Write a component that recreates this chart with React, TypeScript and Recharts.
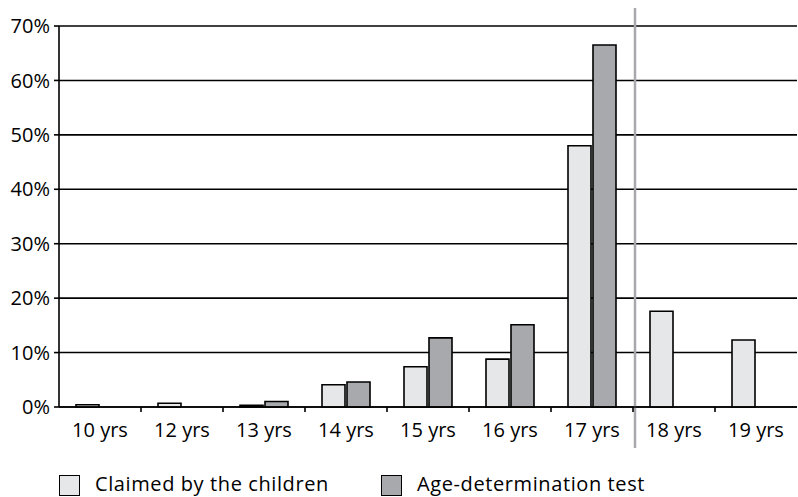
import React from 'react';
import { BarChart, Bar, XAxis, YAxis, CartesianGrid, ReferenceLine } from 'recharts';

const ages = ['10 yrs', '12 yrs', '13 yrs', '14 yrs', '15 yrs', '16 yrs', '17 yrs', '18 yrs', '19 yrs'];
const claimed = [0.4, 0.7, 0.3, 4.1, 7.4, 8.8, 48.0, 17.6, 12.3];
const tested: (number | null)[] = [null, null, 1.0, 4.6, 12.7, 15.1, 66.5, null, null];
const yTicks = [0, 10, 20, 30, 40, 50, 60, 70];

const LIGHT = '#e6e7e8';
const DARK = '#a7a9ac';
const FONT = '"Open Sans", "Noto Sans", sans-serif';

const data = ages.map((name, i) => ({ name, claimed: claimed[i], tested: tested[i] }));

// label in the middle of the band, small tick on the band's left edge
const XTick = (props: any) => {
  const { x, y, payload, index } = props;
  const half = payload?.offset ?? 41;
  return (
    <g>
      <text x={x} y={y + 22} textAnchor="middle" dominantBaseline="central" fontSize={20} fontFamily={FONT} fill="#000">
        {payload.value}
      </text>
      {index > 0 && <line x1={x - half} x2={x - half} y1={y} y2={y + 5} stroke="#000" strokeWidth={1.6} />}
    </g>
  );
};

const Separator = (props: any) => {
  const top = Math.min(props.y1, props.y2);
  const bottom = Math.max(props.y1, props.y2);
  return <line x1={props.x1 + 2} x2={props.x2 + 2} y1={top - 18} y2={bottom + 41} stroke={DARK} strokeWidth={2.5} />;
};

const swatch = (fill: string) => ({
  position: 'absolute' as const,
  left: 0,
  top: 1,
  width: 19,
  height: 19,
  background: fill,
  border: '1.5px solid #000',
});

const legendText = {
  position: 'absolute' as const,
  left: 36,
  top: 0,
  lineHeight: '20px',
  letterSpacing: 0.6,
};

export default function App() {
  return (
    <div style={{ position: 'absolute', left: 0, top: 0, width: 798, height: 497, fontFamily: FONT }}>
      <BarChart
        width={798}
        height={497}
        data={data}
        margin={{ top: 26, right: 1, left: 0, bottom: 0 }}
        barSize={23}
        barGap={2}
      >
        <CartesianGrid vertical={false} stroke="#000" strokeWidth={1.6} />
        <XAxis
          dataKey="name"
          height={90}
          tickSize={0}
          tickMargin={0}
          tickLine={false}
          axisLine={{ stroke: '#000', strokeWidth: 1.6 }}
          tick={<XTick />}
          interval={0}
        />
        <YAxis
          width={59}
          domain={[0, 70]}
          ticks={yTicks}
          tickFormatter={(v: number) => `${v}%`}
          tickSize={5}
          tickMargin={4}
          tickLine={{ stroke: '#000', strokeWidth: 1.6 }}
          axisLine={{ stroke: '#000', strokeWidth: 1.6 }}
          tick={{ fontSize: 20, fontFamily: FONT, fill: '#000' }}
        />
        <Bar dataKey="claimed" fill={LIGHT} stroke="#000" strokeWidth={1.6} isAnimationActive={false} />
        <Bar dataKey="tested" fill={DARK} stroke="#000" strokeWidth={1.6} isAnimationActive={false} />
        <ReferenceLine x="18 yrs" position="start" ifOverflow="visible" shape={<Separator />} />
      </BarChart>
      <div style={{ position: 'absolute', top: 474, left: 59, fontSize: 20, color: '#000', whiteSpace: 'nowrap' }}>
        <div style={{ position: 'absolute', left: 0, top: 0 }}>
          <span style={swatch(LIGHT)} />
          <span style={legendText}>Claimed by the children</span>
        </div>
        <div style={{ position: 'absolute', left: 322, top: 0 }}>
          <span style={swatch(DARK)} />
          <span style={legendText}>Age-determination test</span>
        </div>
      </div>
    </div>
  );
}
